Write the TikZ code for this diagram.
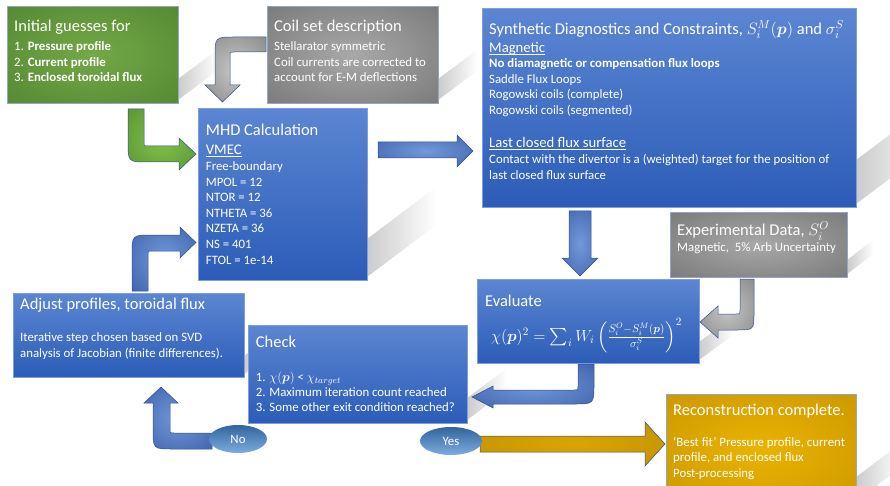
\RequirePackage{fix-cm}
\documentclass[tikz,border=0pt]{standalone}
\usepackage{amsmath}
\usepackage[no-math]{fontspec}
\setmainfont{Carlito}
\usetikzlibrary{shapes.geometric,calc}
\pgfdeclarelayer{bg}
\pgfsetlayers{bg,main}
\definecolor{boxtop}{RGB}{92,134,210}
\definecolor{boxbot}{RGB}{44,92,184}
\definecolor{boxedge}{RGB}{125,160,220}
\definecolor{grayedge}{RGB}{150,165,195}
\definecolor{arredge}{RGB}{47,82,143}
\definecolor{elltop}{RGB}{50,100,158}
\definecolor{ellbot}{RGB}{125,172,222}
\newcommand{\myul}[1]{\setbox0\hbox{#1}\rlap{\raisebox{-2.2pt}{\rule{\wd0}{0.8pt}}}\box0}
\pgfdeclareradialshading{graysh}{\pgfpoint{0bp}{0bp}}{rgb(0bp)=(0.66,0.66,0.66);rgb(50bp)=(0.41,0.41,0.41)}
\pgfdeclareradialshading{greensh}{\pgfpoint{0bp}{0bp}}{rgb(0bp)=(0.45,0.66,0.28);rgb(50bp)=(0.29,0.49,0.17)}
\pgfdeclareradialshading{goldsh}{\pgfpoint{0bp}{0bp}}{rgb(0bp)=(0.92,0.70,0.0);rgb(50bp)=(0.75,0.56,0.0)}
\pgfdeclareradialshading{bluearr}{\pgfpoint{0bp}{0bp}}{rgb(0bp)=(0.45,0.60,0.86);rgb(50bp)=(0.17,0.31,0.60)}
\pgfdeclareradialshading{greenarr}{\pgfpoint{0bp}{0bp}}{rgb(0bp)=(0.50,0.76,0.30);rgb(50bp)=(0.30,0.52,0.16)}
\pgfdeclareradialshading{grayarr}{\pgfpoint{0bp}{0bp}}{rgb(0bp)=(0.78,0.78,0.78);rgb(50bp)=(0.45,0.45,0.45)}
\pgfdeclareradialshading{goldarr}{\pgfpoint{0bp}{0bp}}{rgb(0bp)=(0.86,0.65,0.0);rgb(50bp)=(0.72,0.54,0.0)}
\begin{document}
\begin{tikzpicture}[x=1pt,y=-1pt,
  boxbase/.style={rectangle, inner sep=0pt, anchor=north west},
  bluebox/.style={boxbase, top color=boxtop, bottom color=boxbot, draw=boxedge, line width=0.6pt},
  graybox/.style={boxbase, shade, shading=graysh, draw=grayedge, line width=0.6pt},
  greenbox/.style={boxbase, shade, shading=greensh, draw=grayedge, line width=0.6pt},
  goldbox/.style={boxbase, shade, shading=goldsh, draw=grayedge, line width=0.6pt},
  body/.style={anchor=base west, inner sep=0pt, text=white, font=\fontsize{12.8}{15.5}\selectfont},
  ttl/.style={anchor=base west, inner sep=0pt, text=white, font=\fontsize{16.5}{19}\selectfont},
  sub/.style={anchor=base west, inner sep=0pt, text=white, font=\fontsize{14.7}{17}\selectfont},
  bluearrow/.style={shade, shading=bluearr, draw=arredge, line width=0.5pt},
  greenarrow/.style={shade, shading=greenarr, draw=arredge, line width=0.5pt},
  grayarrow/.style={shade, shading=grayarr, draw=arredge, line width=0.5pt},
  goldarrow/.style={shade, shading=goldarr, draw=arredge, line width=0.5pt},
  shadowband/.style={left color=black!20, right color=white},
  ell/.style={ellipse, inner sep=0pt, top color=elltop, bottom color=ellbot, text=white, font=\fontsize{12.8}{15}\selectfont}
]
\useasboundingbox (0,0) rectangle (890,486);

% ---------- boxes ----------
\node[greenbox, minimum width=171, minimum height=97] (green) at (7,6) {};
\node[graybox, minimum width=171, minimum height=97] (coil) at (267,6) {};
\node[bluebox, minimum width=374, minimum height=199] (synth) at (482,8) {};
\node[bluebox, minimum width=169, minimum height=172] (mhd) at (198,108) {};
\node[graybox, minimum width=177, minimum height=65] (exp) at (670,212) {};
\node[bluebox, minimum width=222, minimum height=84] (eval) at (477,279) {};
\node[bluebox, minimum width=231, minimum height=84] (adj) at (13,293) {};
\node[bluebox, minimum width=219, minimum height=98] (check) at (248,325) {};
\node[goldbox, minimum width=190, minimum height=110] (gold) at (666,394) {};

% ---------- shadows (behind everything) ----------
\begin{pgfonlayer}{bg}
\fill[white] (0,0) rectangle (890,486);
\foreach \b/\a/\c/\t in {green/39/29/21, coil/39/29/21, synth/80/60/44, mhd/69/52/38, exp/26/20/14, eval/34/25/18, adj/34/25/18, check/39/29/22, gold/44/33/24}{
  \shade[shadowband] ($(\b.south east)+(0,-4)$) -- ($(\b.south east)+(\a,-4-\c)$) -- ($(\b.south east)+(\a,-4-\c-\t)$) -- ($(\b.south east)+(0,-4-\t)$) -- cycle;
}
\end{pgfonlayer}

% ---------- arrows ----------
% initial guesses -> MHD
\path[greenarrow] (128,109) -- (128,142) .. controls (128,162) .. (148,162) -- (179,162) -- (179,170) -- (196,154) -- (179,138) -- (179,146) -- (148,146) .. controls (144,146) .. (144,142) -- (144,109) -- cycle;
% coil -> MHD
\path[grayarrow] (266,37) -- (235,37) .. controls (215,37) .. (215,57) -- (215,85) -- (205,85) -- (222.5,102) -- (240,85) -- (230,85) -- (230,56) .. controls (230,52) .. (234,52) -- (266,52) -- cycle;
% adjust -> MHD
\path[bluearrow] (132,291) -- (132,255) .. controls (132,235) .. (152,235) -- (180,235) -- (180,227) -- (196,242.5) -- (180,258) -- (180,251) -- (152,251) .. controls (148,251) .. (148,255) -- (148,291) -- cycle;
% MHD -> synthetic
\path[bluearrow] (378,142) -- (457,142) -- (457,135) -- (473,151) -- (457,167) -- (457,158) -- (378,158) -- cycle;
% synthetic -> evaluate
\path[bluearrow] (569,211) -- (591,211) -- (591,258) -- (598,258) -- (580,276) -- (562,258) -- (569,258) -- cycle;
% experimental -> evaluate
\path[grayarrow] (740,279) -- (740,310) .. controls (740,314) .. (736,314) -- (718,314) -- (718,306) -- (700,322) -- (718,338) -- (718,330) -- (736,330) .. controls (754,330) .. (754,312) -- (754,279) -- cycle;
% evaluate -> check
\path[bluearrow] (578,364) -- (578,386) .. controls (578,390) .. (574,390) -- (493,390) -- (493,386) -- (472,397) -- (493,408) -- (493,404) -- (574,404) .. controls (594,404) .. (594,384) -- (594,364) -- cycle;
% No -> adjust
\path[bluearrow] (212,433) -- (174,433) .. controls (170,433) .. (170,429) -- (170,403) -- (178,403) -- (161,387) -- (144,403) -- (153,403) -- (153,429) .. controls (153,449) .. (173,449) -- (212,449) -- cycle;
% Yes -> reconstruction
\path[goldarrow] (480,436) -- (645,436) -- (645,422) -- (665,444) -- (645,466) -- (645,452) -- (480,452) -- cycle;

% ---------- ellipses ----------
\node[ell, minimum width=58, minimum height=28] (no) at (238,439) {No};
\node[ell, minimum width=62, minimum height=28] (yes) at (451,441) {Yes};

% ---------- texts ----------
\node[ttl] (g0) at (14,31.5) {Initial guesses for};
\node[body] (g1) at (14,51) {1. \textbf{Pressure profile}};
\node[body] (g2) at (14,66.5) {2. \textbf{Current profile}};
\node[body] (g3) at (14,82) {3. \textbf{Enclosed toroidal flux}};

\node[ttl] (c0) at (274,31.5) {Coil set description};
\node[body] (c1) at (274,51) {Stellarator symmetric};
\node[body] (c2) at (274,66.5) {Coil currents are corrected to};
\node[body] (c3) at (274,82) {account for E-M deflections};

\node[ttl] (s0) at (489,34.5) {Synthetic Diagnostics and Constraints, $S_i^M(\boldsymbol{p})$ and $\sigma_i^S$};
\node[sub] (s1) at (489,52.7) {\myul{Magnetic}};
\node[body] (s2) at (489,68) {\textbf{No diamagnetic or compensation flux loops}};
\node[body] (s3) at (489,83.5) {Saddle Flux Loops};
\node[body] (s4) at (489,99) {Rogowski coils (complete)};
\node[body] (s5) at (489,114.5) {Rogowski coils (segmented)};
\node[sub] (s6) at (489,148) {\myul{Last closed flux surface}};
\node[body] (s7) at (489,164) {Contact with the divertor is a (weighted) target for the position of};
\node[body] (s8) at (489,179.5) {last closed flux surface};

\node[ttl] (m0) at (205.7,136) {MHD Calculation};
\node[sub] (m1) at (205.7,155) {\myul{VMEC}};
\node[body] (m2) at (205.7,171) {Free-boundary};
\node[body] (m3) at (205.7,186.5) {MPOL = 12};
\node[body] (m4) at (205.7,202) {NTOR = 12};
\node[body] (m5) at (205.7,217.5) {NTHETA = 36};
\node[body] (m6) at (205.7,233) {NZETA = 36};
\node[body] (m7) at (205.7,248.5) {NS = 401};
\node[body] (m8) at (205.7,264) {FTOL = 1e-14};

\node[ttl] (e0) at (677,235.7) {Experimental Data, $S_i^O$};
\node[body] (e1) at (677,251.7) {Magnetic,\ \ 5\% Arb Uncertainty};

\node[ttl] (v0) at (485,306) {Evaluate};
\node[anchor=base west, inner sep=0pt, text=white, font=\fontsize{16}{19}\selectfont] (v1) at (491,341) {$\chi(\boldsymbol{p})^2 = \textstyle\sum_i W_i \left(\frac{S_i^O - S_i^M(\boldsymbol{p})}{\sigma_i^S}\right)^{2}$};

\node[ttl] (a0) at (20,309) {Adjust profiles, toroidal flux};
\node[body] (a1) at (20,341.7) {Iterative step chosen based on SVD};
\node[body] (a2) at (20,357) {analysis of Jacobian (finite differences).};

\node[ttl] (k0) at (255.7,347.3) {Check};
\node[body] (k1) at (255.7,381.7) {1. $\chi(\boldsymbol{p})$ < $\chi_{target}$};
\node[body] (k2) at (255.7,396.7) {2. Maximum iteration count reached};
\node[body] (k3) at (255.7,411.7) {3. Some other exit condition reached?};

\node[ttl] (r0) at (673,415) {Reconstruction complete.};
\node[body] (r1) at (673,446) {‘Best fit’ Pressure profile, current};
\node[body] (r2) at (673,461.5) {profile, and enclosed flux};
\node[body] (r3) at (673,477) {Post-processing};
\end{tikzpicture}
\end{document}
